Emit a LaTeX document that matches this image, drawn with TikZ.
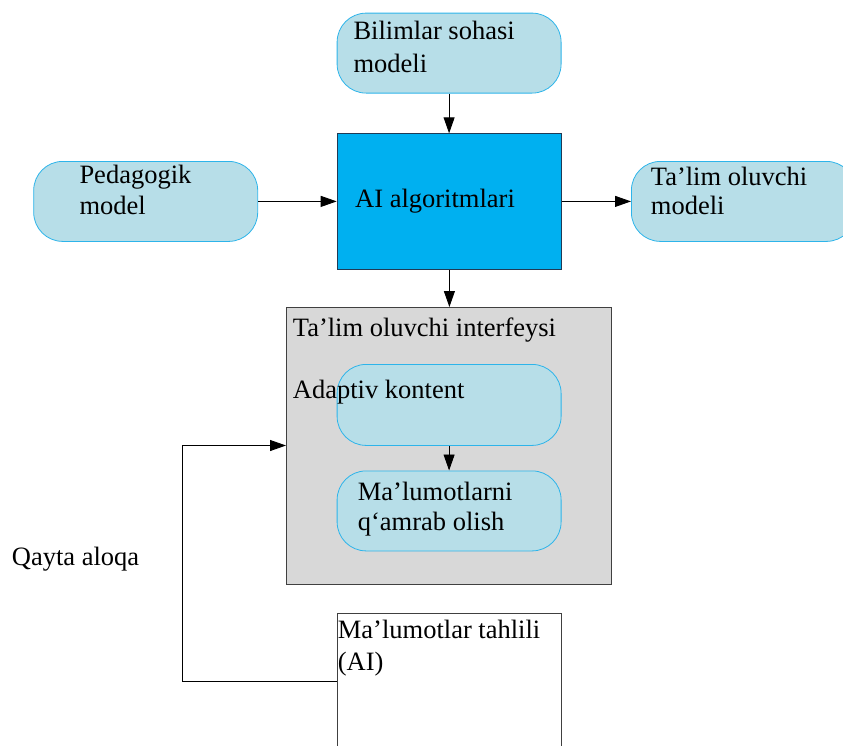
\documentclass[tikz,border=0pt]{standalone}
\usepackage{fontspec}
\setmainfont{Liberation Serif}
\usetikzlibrary{arrows.meta}
\definecolor{lb}{HTML}{B7DEE8}
\definecolor{lbd}{HTML}{2DB4EA}
\definecolor{aib}{HTML}{00B0F0}
\definecolor{aibd}{HTML}{203A55}
\definecolor{gr}{HTML}{D8D8D8}
\definecolor{grd}{HTML}{404040}
\newcommand{\diafont}{\fontsize{26.5}{33}\selectfont}
\begin{document}
\begin{tikzpicture}[x=1pt,y=-1pt,
  soft/.style={draw=lbd, fill=lb, rounded corners=29pt, line width=0.8pt, anchor=north west, inner sep=0pt, minimum width=224pt, minimum height=80pt},
  sq/.style={line width=0.9pt, anchor=north west, inner sep=0pt},
  arr/.style={-{Triangle[length=16pt,width=11pt]}, line width=0.9pt},
  txt/.style={anchor=base west, inner sep=0pt, font=\diafont}]
\useasboundingbox (0,0) rectangle (843,745);

\node[soft] (bil) at (336.7,12.7) {};
\node[sq, draw=aibd, fill=aib, minimum width=224.5pt, minimum height=136pt] (ai) at (336.7,133.3) {};
\node[soft] (ped) at (33.3,161) {};
\node[soft] (tom) at (631,161) {};
\node[sq, draw=grd, fill=gr, minimum width=325pt, minimum height=277pt] (gray) at (286,307) {};
\node[soft, minimum height=81pt] (ada) at (336.7,364) {};
\node[soft] (mal) at (336.7,470.5) {};
\node[sq, draw=grd, fill=white, minimum width=224pt, minimum height=160pt] (tah) at (336.7,613) {};

\node[txt] (t1) at (353.3,39.3) {Bilimlar sohasi};
\node[txt] (t2) at (353.3,72.7) {modeli};
\node[txt] (t3) at (355,207.7) {AI algoritmlari};
\node[txt] (t4) at (79.3,183.3) {Pedagogik};
\node[txt] (t5) at (79.3,214) {model};
\node[txt] (t6) at (650.7,185) {Ta’lim oluvchi};
\node[txt] (t7) at (650.7,214) {modeli};
\node[txt] (t8) at (292.7,336) {Ta’lim oluvchi interfeysi};
\node[txt] (t9) at (292.7,398.7) {Adaptiv kontent};
\node[txt] (t10) at (357.7,500) {Ma’lumotlarni};
\node[txt] (t11) at (357.7,530.7) {q‘amrab olish};
\node[txt] (t12) at (337.7,638.3) {Ma’lumotlar tahlili};
\node[txt] (t13) at (337.7,670.7) {(AI)};
\node[txt] (t14) at (11.7,565) {Qayta aloqa};

\draw[arr] (bil.south) -- (bil.south |- ai.north);
\draw[arr] (ped.east) -- (ped.east -| ai.west);
\draw[arr] (ai.east |- tom.west) -- (tom.west);
\draw[arr] (ai.south) -- (ai.south |- gray.north);
\draw[arr] (ada.south) -- (mal.north);
\coordinate (fbs) at (336.7,681);
\coordinate (fbt) at (286,445.5);
\draw[arr] (fbs) -- ++(-154.5,0) |- (fbt);
\end{tikzpicture}
\end{document}
